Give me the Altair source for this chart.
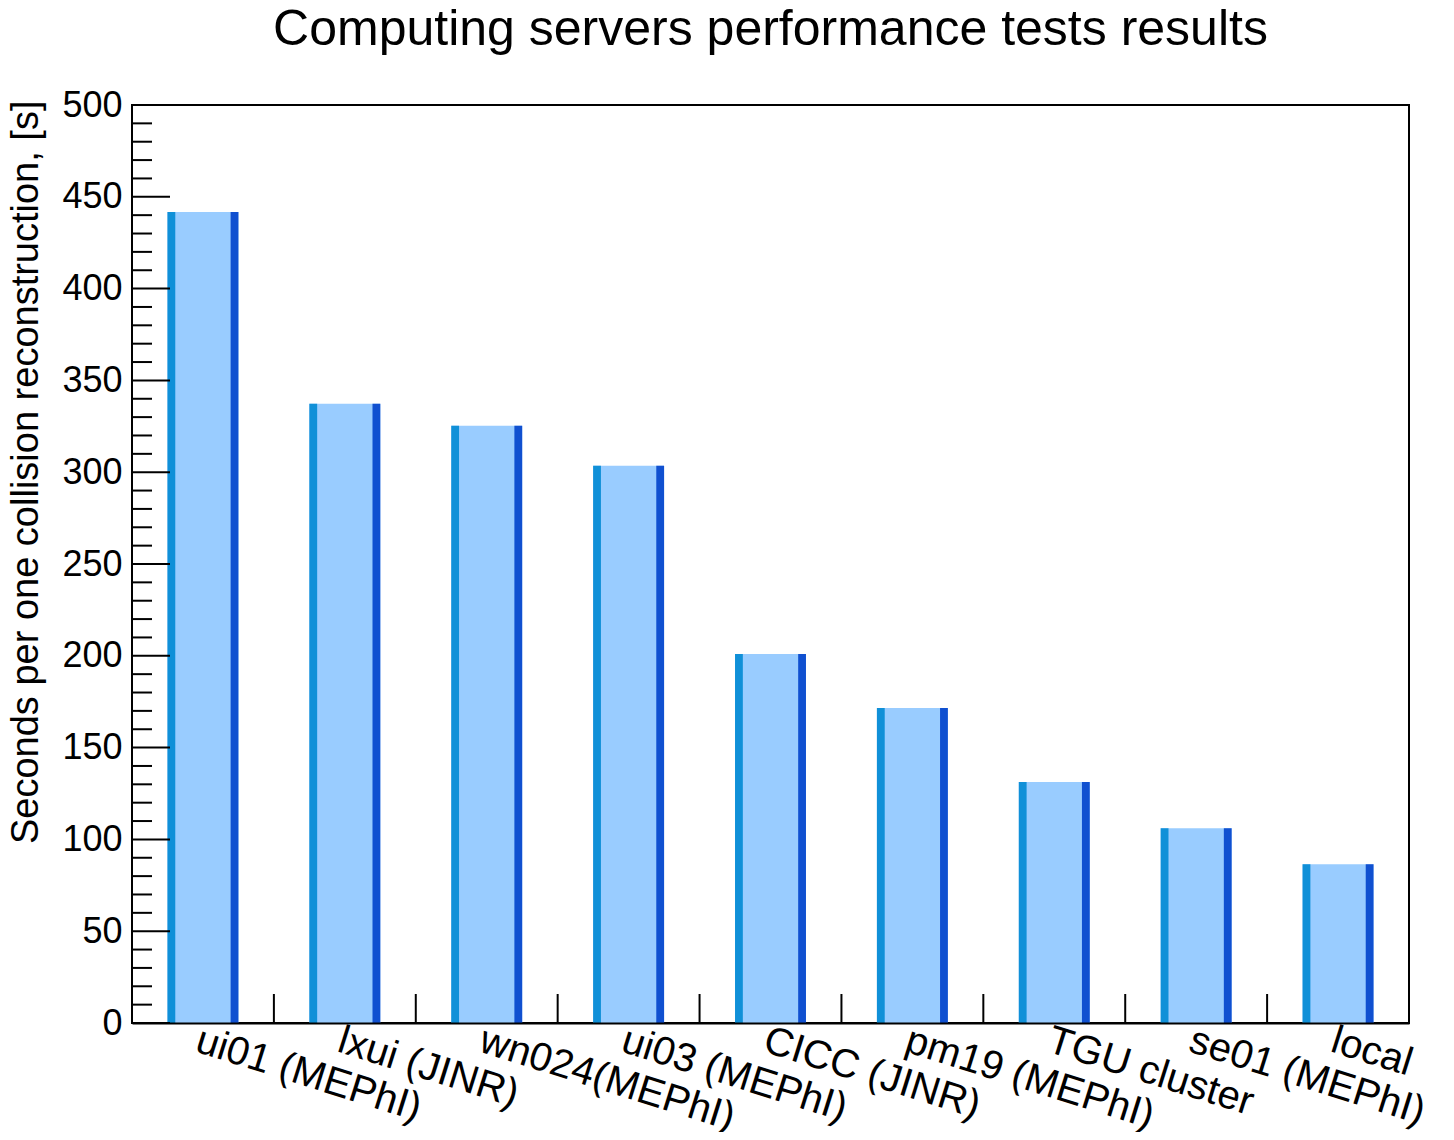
import altair as alt
import pandas as pd

servers = ["ui01 (MEPhI)", "lxui (JINR)", "wn024(MEPhI)", "ui03 (MEPhI)",
           "CICC (JINR)", "pm19 (MEPhI)", "TGU cluster", "se01 (MEPhI)", "local"]
seconds = [441.7, 337.3, 325.3, 303.5, 201.0, 171.6, 131.3, 106.1, 86.5]
y_major = list(range(0, 501, 50))
y_minor = [v for v in range(0, 501, 10) if v % 50]
bin_edges = list(range(1, len(servers)))

W, H = 1277, 918
FONT = "Liberation Sans"

df = pd.DataFrame({"server": servers, "seconds": seconds, "idx": list(range(len(servers)))})

x_scale = alt.Scale(domain=[0, len(servers)], nice=False, zero=False)
y_scale = alt.Scale(domain=[0, 500], nice=False, zero=True)

label_expr = "[" + ",".join("'" + s + "'" for s in servers) + "][floor(datum.value)]"

x_axis = alt.Axis(values=[i + 0.5 for i in range(len(servers))], labelExpr=label_expr,
                  labelAngle=17.5, labelAlign="left", labelBaseline="top",
                  labelFontSize=40, labelFont=FONT, labelColor="black", labelPadding=-3,
                  labelOverlap=False, labelFlush=False, labelBound=False, labelLimit=0,
                  ticks=False, domain=True, domainColor="black", domainWidth=2,
                  grid=False, title=None, zindex=1)

y_axis = alt.Axis(values=y_major, labelFontSize=36, labelFont=FONT, labelColor="black",
                  labelPadding=10, ticks=False, domain=False, grid=False,
                  title="Seconds per one collision reconstruction, [s]",
                  titleFontSize=38, titleFont=FONT, titleFontWeight="normal", titleColor="black",
                  titleAngle=-90, titleAlign="right", titleBaseline="alphabetic",
                  titleX=-95, titleY=-5, titleLimit=0)

base = alt.Chart(df).transform_calculate(
    x0="datum.idx + 0.25", x1="datum.idx + 0.75",
    l1="datum.idx + 0.305", r0="datum.idx + 0.695", base="0")

main = base.mark_bar(color="#99ccff").encode(
    x=alt.X("x0:Q", scale=x_scale, axis=x_axis), x2="x1:Q",
    y=alt.Y("seconds:Q", scale=y_scale, axis=y_axis), y2="base:Q")
left = base.mark_bar(color="#1090d8").encode(
    x=alt.X("x0:Q"), x2="l1:Q",
    y=alt.Y("seconds:Q"), y2="base:Q")
right = base.mark_bar(color="#1050d0").encode(
    x=alt.X("x0:Q"), x2="x1:Q",
    y=alt.Y("seconds:Q"), y2="base:Q").transform_calculate(x0="datum.r0")

major = alt.Chart(pd.DataFrame({"seconds": y_major})).mark_rule(color="black", strokeWidth=2).encode(
    y=alt.Y("seconds:Q"), x=alt.value(0), x2=alt.value(38))
minor = alt.Chart(pd.DataFrame({"seconds": y_minor})).mark_rule(color="black", strokeWidth=2).encode(
    y=alt.Y("seconds:Q"), x=alt.value(0), x2=alt.value(20))
xticks = alt.Chart(pd.DataFrame({"x0": bin_edges})).mark_rule(color="black", strokeWidth=2).encode(
    x=alt.X("x0:Q"), y=alt.value(H - 29), y2=alt.value(H))

chart = alt.layer(main, left, right, major, minor, xticks).properties(
    width=W, height=H,
    title=alt.TitleParams("Computing servers performance tests results", fontSize=50, font=FONT,
                          fontWeight="normal", color="black", anchor="middle", frame="group",
                          baseline="alphabetic", offset=20, dy=28),
    autosize=alt.AutoSizeParams(type="none"),
    padding={"left": 124, "top": 97, "right": 37, "bottom": 109},
    background="white",
).configure_view(stroke="black", strokeWidth=2)

chart.save("out.html", embed_options={"renderer": "svg", "actions": False})
